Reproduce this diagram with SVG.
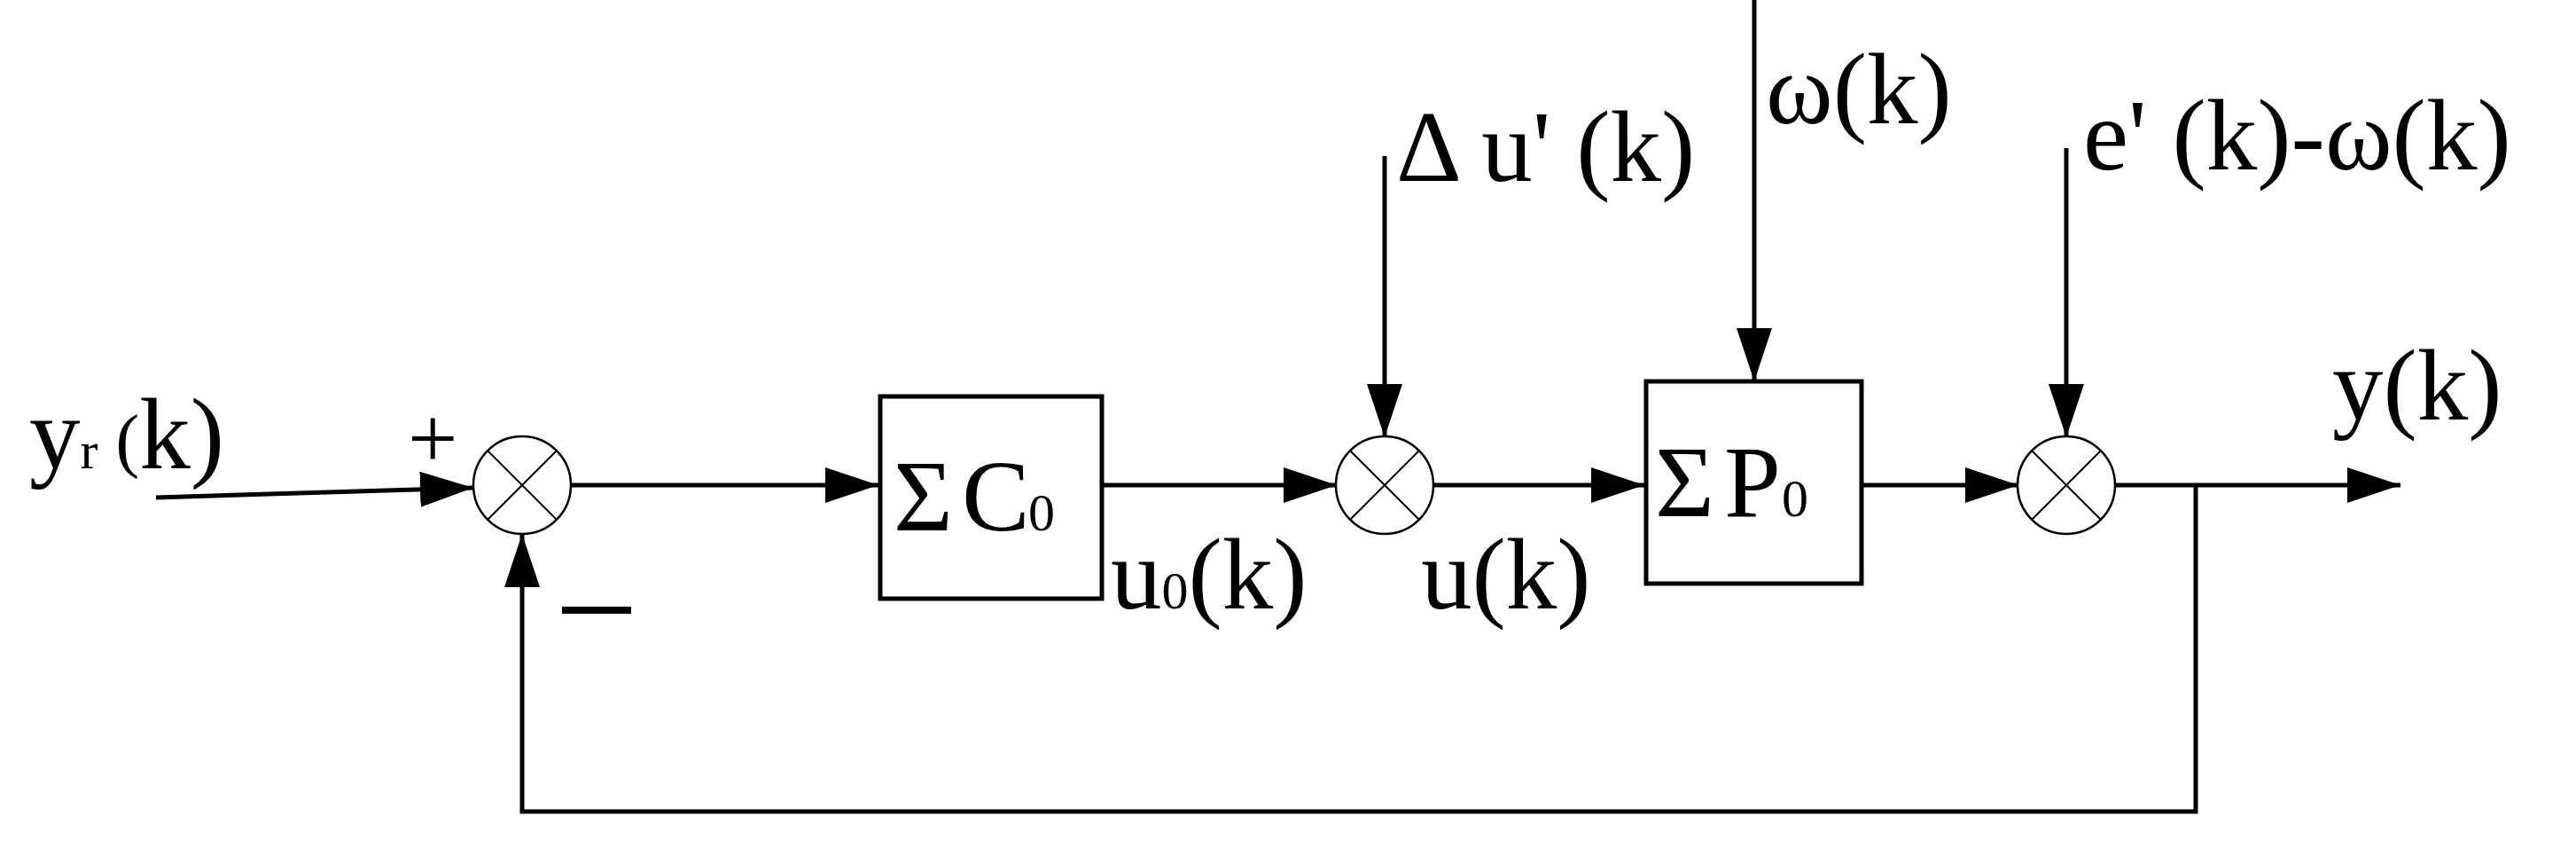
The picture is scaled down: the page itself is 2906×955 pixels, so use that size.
<svg xmlns="http://www.w3.org/2000/svg" width="2906" height="955" viewBox="0 0 2906 955">
<style>
.ln{stroke:#000;stroke-width:5;fill:none}
.sum{stroke:#000;stroke-width:2.5;fill:#fff}
.x{stroke:#000;stroke-width:2;fill:none}
.box{stroke:#000;stroke-width:5;fill:#fff}
text{font-family:"Liberation Serif","Times New Roman",serif;fill:#000}
.t{font-size:115px}
.s{font-size:60px}
</style>
<defs>
<marker id="ah" markerWidth="14" markerHeight="10" refX="14" refY="5" orient="auto" markerUnits="userSpaceOnUse" viewBox="0 0 14 10">
<path d="M0,0 L14,5 L0,10 z" fill="#000"/>
</marker>
<marker id="a" viewBox="0 0 60 40" refX="60" refY="20" markerWidth="60" markerHeight="40" orient="auto" markerUnits="userSpaceOnUse"><path d="M0,0 L60,20 L0,40 z" fill="#000"/></marker>
</defs>
<g id="connectors">
<path class="ln" d="M176,561 L534,550" marker-end="url(#a)"/>
<path class="ln" d="M643,547 L991,547" marker-end="url(#a)"/>
<path class="ln" d="M1243,547 L1508,547" marker-end="url(#a)"/>
<path class="ln" d="M1616,547 L1855,547" marker-end="url(#a)"/>
<path class="ln" d="M2100,547 L2277,547" marker-end="url(#a)"/>
<path class="ln" d="M2385,547 L2708,547" marker-end="url(#a)"/>
<path class="ln" d="M2477,547 L2477,915 L589,915 L589,602" marker-end="url(#a)"/>
<path class="ln" d="M1562,176 L1562,493" marker-end="url(#a)"/>
<path class="ln" d="M1979,0 L1979,430" marker-end="url(#a)"/>
<path class="ln" d="M2331,167 L2331,493" marker-end="url(#a)"/>
</g>
<g id="sum1"><ellipse class="sum" cx="589" cy="547" rx="55" ry="55"/><path class="x" d="M550,508 L628,586 M628,508 L550,586"/></g>
<g id="sum2"><ellipse class="sum" cx="1562" cy="547" rx="55" ry="55"/><path class="x" d="M1523,508 L1601,586 M1601,508 L1523,586"/></g>
<g id="sum3"><ellipse class="sum" cx="2331" cy="547" rx="55" ry="55"/><path class="x" d="M2292,508 L2370,586 M2370,508 L2292,586"/></g>
<g id="C0"><rect class="box" x="993" y="447" width="250" height="228"/>
<text class="t" x="1008" y="598">Σ</text><text class="t" x="1085" y="598">C</text><text class="s" x="1160" y="598">0</text></g>
<g id="P0"><rect class="box" x="1857" y="430" width="243" height="228"/>
<text class="t" x="1867" y="582">Σ</text><text class="t" x="1945" y="582">P</text><text class="s" x="2010" y="582">0</text></g>
<g id="labels">
<text class="t" x="33" y="528">y<tspan class="s">r</tspan><tspan font-size="80" dy="-5"> (</tspan><tspan dy="5">k)</tspan></text>
<text x="460" y="528" font-size="100" font-family="Liberation Sans,sans-serif">+</text>
<rect x="634" y="684" width="78" height="8" fill="#000"/>
<text class="t" x="1253" y="686">u<tspan class="s">0</tspan>(k)</text>
<text class="t" x="1603" y="686">u(k)</text>
<text class="t" x="1575" y="204">Δ u' (k)</text>
<text class="t" x="1992" y="139">ω(k)</text>
<text class="t" x="2350" y="191">e' (k)-ω(k)</text>
<text class="t" x="2631" y="473">y(k)</text>
</g>
</svg>
